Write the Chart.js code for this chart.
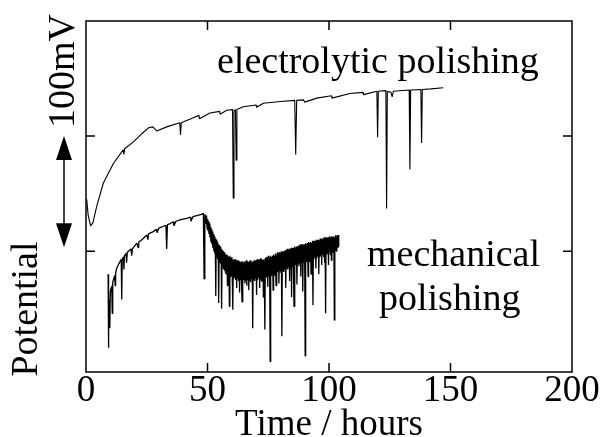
<!DOCTYPE html>
<html>
<head>
<meta charset="utf-8">
<script src="https://cdn.jsdelivr.net/npm/chart.js@4/dist/chart.umd.min.js"></script>
<style>
  html, body { margin: 0; padding: 0; background: #fff; }
  #wrap { width: 609px; height: 437px; }
</style>
</head>
<body>
<div id="wrap"><canvas id="potChart" width="609" height="437"></canvas></div>
<script>
// === AXES ===
const hourTicks = [0, 50, 100, 150, 200];   // time axis (hours)
const mvTicks = [100, 200];                 // potential marks (mV), no labels

// === ELECTROLYTIC POLISHING ===
const elecHours = [0.3, 0.9, 1.9, 2.9, 4.4, 7.1, 11.2, 15.3, 15.6, 15.9, 19.5, 22.9, 26.0, 27.5,
  29.1, 33.2, 38.6, 38.9, 39.2, 44.2, 46.5, 46.7, 51.0, 55.0, 55.2, 57.9, 60.3, 60.6, 60.9,
  61.5, 61.8, 62.1, 64.7, 70.0, 70.2, 73.0, 80.0, 85.9, 86.3, 86.7, 89.5, 90.0, 95.0, 101.0,
  101.2, 108.6, 114.0, 114.2, 119.7, 120.0, 120.3, 123.4, 123.7, 124.0, 125.5, 126.0, 126.5,
  133.0, 133.3, 133.6, 137.8, 138.1, 138.4, 142.0, 147.0];
const elecMv = [145, 131, 122, 125, 139, 159, 176, 188, 184, 189, 195, 202, 207.5, 208,
  204.5, 208, 211.5, 201, 211.5, 216, 218, 215, 220, 221.5, 219, 222.5, 223, 146, 222,
  223, 179, 223, 225.5, 227, 225, 228.5, 230, 231, 184, 231, 231.5, 229.5, 233, 235,
  233, 237, 238, 236, 239, 199, 239, 239.5, 137, 239, 238, 234, 239,
  240, 171, 240, 240.5, 194, 240.5, 241, 242];

// === MECHANICAL POLISHING ===
const mechHours = [9.1, 9.2, 9.4, 9.6, 9.8, 10.0, 10.3, 10.6, 10.8, 11.0, 11.8, 12.0, 12.2, 12.6,
  13.5, 14.5, 14.7, 14.9, 15.4, 15.6, 15.8, 16.5, 16.7, 17.0, 18.5, 18.8, 19.1, 20.9, 21.5, 21.7,
  23.0, 25.0, 25.5, 25.7, 27.7, 29.0, 29.2, 30.0, 32.9, 33.2, 33.5, 34.6, 36.0, 36.2, 37.0, 39.0,
  41.4, 43.0, 43.2, 44.0, 46.0, 47.5, 48.3, 48.6, 48.9,
  49.2, 49.4, 49.6, 49.8, 50.0, 50.2, 50.4, 50.6, 50.8, 51.0,
  51.2, 51.4, 51.6, 51.8, 52.0, 52.2, 52.4, 52.6, 52.8, 53.0,
  53.2, 53.4, 53.6, 53.8, 54.0, 54.2, 54.4, 54.6, 54.8, 55.0,
  55.2, 55.4, 55.6, 55.8, 56.0, 56.2, 56.4, 56.6, 56.8, 57.0,
  57.2, 57.4, 57.6, 57.8, 58.0, 58.2, 58.4, 58.6, 58.8, 59.0,
  59.2, 59.4, 59.6, 59.8, 60.0, 60.2, 60.4, 60.6, 60.8, 61.0,
  61.2, 61.4, 61.6, 61.8, 62.0, 62.2, 62.4, 62.6, 62.8, 63.0,
  63.2, 63.4, 63.6, 63.8, 64.0, 64.2, 64.4, 64.6, 64.8, 65.0,
  65.2, 65.4, 65.6, 65.8, 66.0, 66.2, 66.4, 66.6, 66.8, 67.0,
  67.2, 67.4, 67.6, 67.8, 68.0, 68.2, 68.4, 68.6, 68.8, 69.0,
  69.2, 69.4, 69.6, 69.8, 70.0, 70.2, 70.4, 70.6, 70.8, 71.0,
  71.2, 71.4, 71.6, 71.8, 72.0, 72.2, 72.4, 72.6, 72.8, 73.0,
  73.2, 73.4, 73.6, 73.8, 74.0, 74.2, 74.4, 74.6, 74.8, 75.0,
  75.2, 75.4, 75.6, 75.8, 76.0, 76.2, 76.4, 76.6, 76.8, 77.0,
  77.2, 77.4, 77.6, 77.8, 78.0, 78.2, 78.4, 78.6, 78.8, 79.0,
  79.2, 79.4, 79.6, 79.8, 80.0, 80.2, 80.4, 80.6, 80.8, 81.0,
  81.2, 81.4, 81.6, 81.8, 82.0, 82.2, 82.4, 82.6, 82.8, 83.0,
  83.2, 83.4, 83.6, 83.8, 84.0, 84.2, 84.4, 84.6, 84.8, 85.0,
  85.2, 85.4, 85.6, 85.8, 86.0, 86.2, 86.4, 86.6, 86.8, 87.0,
  87.2, 87.4, 87.6, 87.8, 88.0, 88.2, 88.4, 88.6, 88.8, 89.0,
  89.2, 89.4, 89.6, 89.8, 90.0, 90.2, 90.4, 90.6, 90.8, 91.0,
  91.2, 91.4, 91.6, 91.8, 92.0, 92.2, 92.4, 92.6, 92.8, 93.0,
  93.2, 93.4, 93.6, 93.8, 94.0, 94.2, 94.4, 94.6, 94.8, 95.0,
  95.2, 95.4, 95.6, 95.8, 96.0, 96.2, 96.4, 96.6, 96.8, 97.0,
  97.2, 97.4, 97.6, 97.8, 98.0, 98.2, 98.4, 98.6, 98.8, 99.0,
  99.2, 99.4, 99.6, 99.8, 100.0, 100.2, 100.4, 100.6, 100.8, 101.0,
  101.2, 101.4, 101.6, 101.8, 102.0, 102.2, 102.4, 102.6, 102.8, 103.0,
  103.2, 103.4, 103.6, 103.8, 104.0];
const mechMv = [80, 16, 45, 58, 33, 64, 68, 70, 46, 73, 79, 70, 81, 85,
  89, 93, 58, 93, 95, 84, 96, 98, 90, 99, 102, 96, 102, 107, 103, 108,
  110, 114, 110, 115, 117, 119, 116, 120, 122.5, 102, 123, 124, 125.5, 122, 126, 127.5,
  128.5, 129.5, 126, 130, 131, 132, 133, 76, 132,
  130, 124, 131, 121, 128, 118, 126, 115, 124, 112,
  121, 108, 119, 106, 117, 103, 115, 100, 113, 98,
  111, 61, 110, 95, 108, 93, 106, 55, 105, 90,
  104, 89, 102, 50, 101, 86, 100, 84, 99, 83,
  98, 81, 97, 80, 97, 70, 96, 79, 95, 52,
  96, 78, 94, 79, 95, 77, 49, 93, 76, 92,
  77, 93, 75, 92, 68, 91, 76, 92, 74, 91,
  64, 90, 75, 91, 74, 56, 91, 73, 90, 75,
  91, 72, 90, 74, 92, 70, 91, 75, 90, 66,
  91, 74, 92, 73, 90, 76, 91, 33, 91, 75,
  92, 74, 91, 76, 92, 62, 93, 75, 92, 77,
  93, 68, 92, 76, 94, 74, 93, 77, 92, 60,
  93, 76, 32, 94, 78, 95, 77, 94, 69, 96,
  78, 95, 72, 4, 96, 79, 95, 80, 96, 66,
  97, 79, 96, 81, 98, 70, 97, 80, 99, 82,
  98, 72, 99, 83, 98, 81, 100, 26, 99, 83,
  100, 82, 99, 84, 101, 68, 100, 85, 102, 84,
  101, 86, 102, 74, 101, 85, 103, 60, 102, 86,
  103, 85, 52, 104, 87, 103, 88, 104, 71, 103,
  89, 105, 87, 104, 89, 106, 78, 105, 90, 106,
  65, 105, 90, 106, 89, 9, 107, 91, 106, 92,
  107, 78, 108, 91, 107, 93, 108, 80, 107, 92,
  109, 53, 108, 93, 109, 95, 108, 85, 110, 94,
  109, 96, 110, 80, 109, 95, 111, 96, 110, 88,
  111, 97, 110, 95, 112, 90, 111, 46, 112, 97,
  111, 98, 112, 88, 111, 99, 113, 97, 112, 92,
  113, 99, 112, 100, 113, 40, 112, 101, 114, 100,
  113, 103, 114, 104, 114];

const serif = "'Liberation Serif', 'Times New Roman', serif";

function toPoints(xs, ys) {
  return xs.map((x, i) => ({ x: x, y: ys[i] }));
}

// frame, inward ticks and the potential labels
const framePlugin = {
  id: 'frame',
  afterDraw(chart) {
    const { ctx, chartArea: a, scales } = chart;
    const len = 9;
    ctx.save();
    ctx.strokeStyle = '#000';
    ctx.fillStyle = '#000';
    ctx.lineWidth = 1.5;
    ctx.strokeRect(a.left, a.top, a.right - a.left, a.bottom - a.top);

    ctx.beginPath();
    hourTicks.slice(1, -1).forEach(h => {
      const x = scales.x.getPixelForValue(h);
      ctx.moveTo(x, a.bottom); ctx.lineTo(x, a.bottom - len);
      ctx.moveTo(x, a.top); ctx.lineTo(x, a.top + len);
    });
    mvTicks.forEach(v => {
      const y = scales.y.getPixelForValue(v);
      ctx.moveTo(a.left, y); ctx.lineTo(a.left + len, y);
      ctx.moveTo(a.right, y); ctx.lineTo(a.right - len, y);
    });
    ctx.stroke();

    // rotated labels on the left
    ctx.font = '38px ' + serif;
    ctx.textAlign = 'center';
    ctx.textBaseline = 'alphabetic';
    ctx.save();
    ctx.translate(37, 309);
    ctx.rotate(-Math.PI / 2);
    ctx.fillText('Potential', 0, 0);
    ctx.restore();
    ctx.save();
    ctx.translate(74, 71);
    ctx.rotate(-Math.PI / 2);
    ctx.fillText('100mV', 0, 0);
    ctx.restore();

    // double arrow spanning one 100 mV step
    const ax = 64;
    const yTop = scales.y.getPixelForValue(mvTicks[1]);
    const yBot = scales.y.getPixelForValue(mvTicks[0]) - 4;
    ctx.lineWidth = 1.5;
    ctx.beginPath();
    ctx.moveTo(ax, yTop + 10); ctx.lineTo(ax, yBot - 10);
    ctx.stroke();
    ctx.beginPath();
    ctx.moveTo(ax, yTop); ctx.lineTo(ax - 8, yTop + 24); ctx.lineTo(ax + 8, yTop + 24);
    ctx.closePath();
    ctx.moveTo(ax, yBot); ctx.lineTo(ax - 8, yBot - 24); ctx.lineTo(ax + 8, yBot - 24);
    ctx.closePath();
    ctx.fill();

    // curve names
    ctx.textAlign = 'left';
    ctx.fillText('electrolytic polishing', 217, 73);
    ctx.fillText('mechanical', 367, 266);
    ctx.fillText('polishing', 379, 310);
    ctx.restore();
  }
};

const ctx = document.getElementById('potChart').getContext('2d');
new Chart(ctx, {
  type: 'line',
  data: {
    datasets: [
      {
        label: 'electrolytic polishing',
        data: toPoints(elecHours, elecMv),
        borderColor: '#000',
        borderWidth: 1.1,
        pointRadius: 0,
        tension: 0,
        borderJoinStyle: 'bevel'
      },
      {
        label: 'mechanical polishing',
        data: toPoints(mechHours, mechMv),
        borderColor: '#000',
        borderWidth: 1.3,
        pointRadius: 0,
        tension: 0,
        borderJoinStyle: 'bevel'
      }
    ]
  },
  options: {
    responsive: false,
    animation: false,
    layout: { padding: { left: 86, top: 21, right: 37, bottom: 0 } },
    plugins: { legend: { display: false }, tooltip: { enabled: false } },
    scales: {
      x: {
        type: 'linear',
        min: 0,
        max: 200,
        afterBuildTicks: s => { s.ticks = hourTicks.map(v => ({ value: v })); },
        afterFit: s => { s.height = 65; },
        grid: { display: false, drawTicks: false },
        border: { display: false },
        ticks: {
          autoSkip: false,
          maxRotation: 0,
          padding: -3,
          color: '#000',
          font: { family: serif, size: 37 }
        },
        title: {
          display: true,
          text: 'Time / hours',
          color: '#000',
          padding: { top: 0, bottom: -6.5 },
          font: { family: serif, size: 37, lineHeight: 1 }
        }
      },
      y: {
        display: false,
        min: -5,
        max: 300
      }
    }
  },
  plugins: [framePlugin]
});
</script>
</body>
</html>
